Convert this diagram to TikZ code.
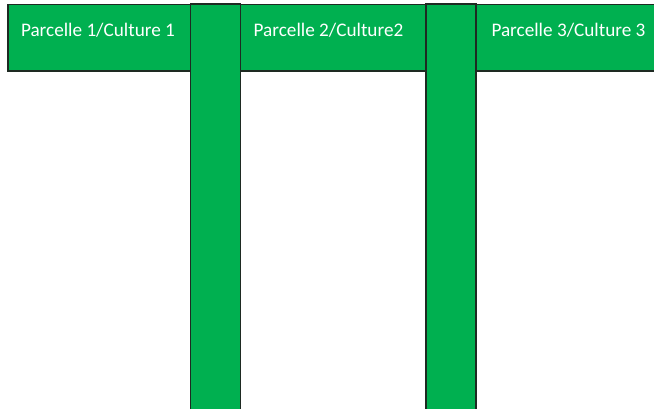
\documentclass[tikz,border=0pt]{standalone}
\usepackage{fontspec}
\setmainfont{Carlito}
\definecolor{pgreen}{HTML}{00B050}
\definecolor{pedge}{HTML}{1E2A22}
\begin{document}
\begin{tikzpicture}[x=1pt,y=-1pt,
  plot/.style={fill=pgreen,draw=pedge,line width=1.2pt},
  lbl/.style={text=white,font=\fontsize{19.2}{22}\selectfont,anchor=base,inner sep=0pt}]
\useasboundingbox (0,0) rectangle (654,408);
\begin{scope}
\clip (0,0) rectangle (654,408);
\draw[plot] (8,4.5) rectangle (200,71) coordinate (r1);
\draw[plot] (238,4.5) rectangle (430,71) coordinate (r2);
\draw[plot] (476,4.5) rectangle (670,71) coordinate (r3);
\draw[plot] (190.5,4) rectangle (240.5,420) coordinate (b1);
\draw[plot] (426,4) rectangle (476,420) coordinate (b2);
\end{scope}
\node[lbl] (t1) at (98,36) {Parcelle 1/Culture 1};
\node[lbl] (t2) at (328.5,36) {Parcelle 2/Culture2};
\node[lbl] (t3) at (568.5,36) {Parcelle 3/Culture 3};
\end{tikzpicture}
\end{document}
